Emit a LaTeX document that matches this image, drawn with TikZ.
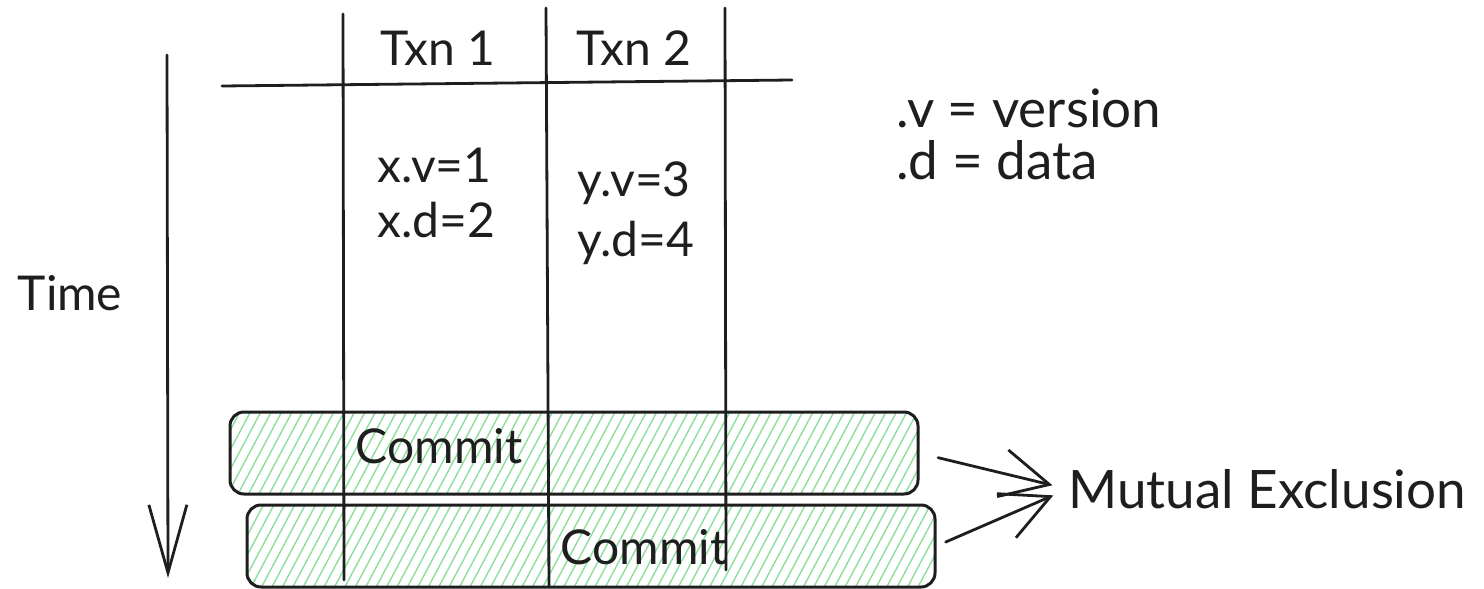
\documentclass[tikz,border=0pt]{standalone}
\usepackage{fontspec}
\setmainfont{Lato}
\usetikzlibrary{arrows.meta,patterns.meta}
\definecolor{hatch}{RGB}{140,222,154}
\definecolor{ink}{RGB}{30,30,30}
\tikzset{
  ink/.style={draw=ink, line width=1.4pt, line cap=round},
  lbl/.style={text=ink, inner sep=0pt, font=\fontsize{24}{28}\selectfont},
  biglbl/.style={text=ink, inner sep=0pt, font=\fontsize{26.5}{30}\selectfont},
  commitbox/.style={draw=ink, line width=1.5pt, rounded corners=7pt,
    pattern={Lines[angle=62,distance=4.6pt,line width=0.7pt]}, pattern color=hatch,
    minimum width=344pt, minimum height=41pt, inner sep=0pt},
}
\begin{document}
\begin{tikzpicture}[x=0.5pt,y=-0.5pt]
\useasboundingbox (0,0) rectangle (1484,589);
% commit boxes
\node[commitbox] (b1) at (574,453) {};
\node[commitbox] (b2) at (591,546) {};
% table lines
\draw[ink] (222,86) -- (792,80);
\draw[ink] (343,14) -- (344,580);
\draw[ink] (546,8) -- (549,586);
\draw[ink] (725,8) -- (726,570);
% time arrow
\coordinate (t0) at (167,55);
\coordinate (t1) at (168,578);
\draw[ink, -{Straight Barb[length=34pt,width=19pt,line width=1.4pt]}] (t0) -- (t1);
\node[lbl] (time) at (70,293) {Time};
% headers
\node[lbl] (txn1) at (438,48) {Txn 1};
\node[lbl] (txn2) at (634,48) {Txn 2};
% values
\node[lbl, anchor=west] (xv) at (377,165) {x.v=1};
\node[lbl, anchor=west] (xd) at (377,220) {x.d=2};
\node[lbl, anchor=west] (yv) at (577,183) {y.v=3};
\node[lbl, anchor=west] (yd) at (577,243) {y.d=4};
% legend
\node[biglbl, anchor=west] (lv) at (896,108) {.v = version};
\node[biglbl, anchor=west] (ld) at (896,160) {.d = data};
% commit labels
\node[lbl] (c1) at (439,446) {Commit};
\node[lbl] (c2) at (644,547) {Commit};
% mutual exclusion
\node[biglbl, anchor=west] (mx) at (1068,489) {Mutual Exclusion};
\draw[ink, -{Straight Barb[length=24pt,width=24pt,line width=1.4pt]}, shorten <=10pt, shorten >=8pt] (b1.east) -- (mx.west);
\draw[ink, -{Straight Barb[length=24pt,width=24pt,line width=1.4pt]}, shorten <=5pt, shorten >=8pt] (b2.east) -- (mx.west);
\end{tikzpicture}
\end{document}
